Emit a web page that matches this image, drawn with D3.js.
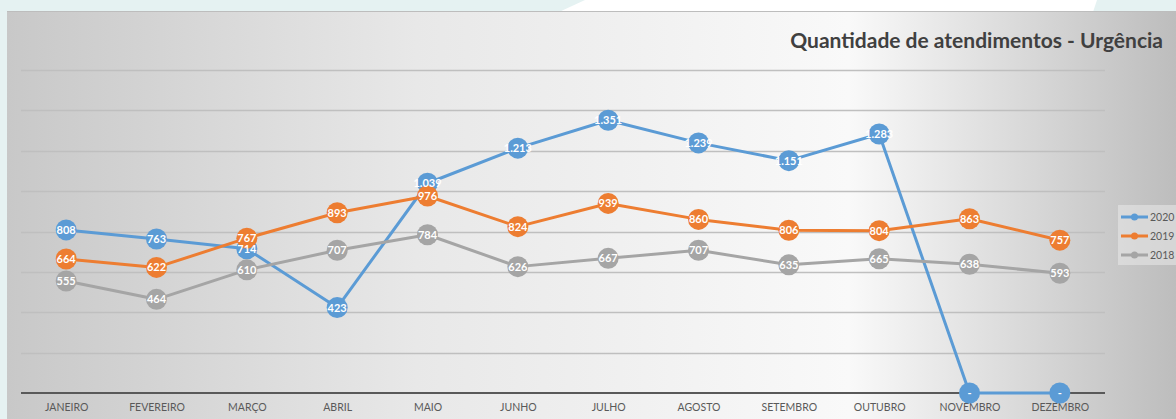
<!DOCTYPE html>
<html>
<head>
<meta charset="utf-8">
<script src="https://cdn.jsdelivr.net/npm/d3@7"></script>
<style>
  html, body { margin: 0; padding: 0; background: #e6f2f2; }
  svg { display: block; }
</style>
</head>
<body>
<svg id="chart" width="1176" height="419"></svg>
<script>
// chart data
var months = ["JANEIRO", "FEVEREIRO", "MARÇO", "ABRIL", "MAIO", "JUNHO", "JULHO", "AGOSTO", "SETEMBRO", "OUTUBRO", "NOVEMBRO", "DEZEMBRO"];
var years = ["2020", "2019", "2018"];
var v2020 = [808, 763, 714, 423, 1039, 1213, 1351, 1239, 1151, 1283, 0, 0];
var v2019 = [664, 622, 767, 893, 976, 824, 939, 860, 806, 804, 863, 757];
var v2018 = [555, 464, 610, 707, 784, 626, 667, 707, 635, 665, 638, 593];
var yTicks = [0, 200, 400, 600, 800, 1000, 1200, 1400, 1600];
var colors = ["#5b9bd5", "#ed7d31", "#a5a5a5"];

var series = [
  { name: years[0], values: v2020, color: colors[0] },
  { name: years[1], values: v2019, color: colors[1] },
  { name: years[2], values: v2018, color: colors[2] }
];

var W = 1176, H = 419;
var font = "Lato, 'Open Sans', sans-serif";
var svg = d3.select("#chart");
var defs = svg.append("defs");

// slide background bits (cyan with a white band on top)
svg.append("rect").attr("x", 0).attr("y", 0).attr("width", W).attr("height", 12).attr("fill", "#e5f2f2");
svg.append("path").attr("d", "M585,0 L1097,0 L1093,12 L559,12 Z").attr("fill", "#ffffff");

// chart panel gradient
var panelGrad = defs.append("linearGradient").attr("id", "panel").attr("x1", 0).attr("x2", 1).attr("y1", 0).attr("y2", 0);
panelGrad.append("stop").attr("offset", "0%").attr("stop-color", "#c8c8c8");
panelGrad.append("stop").attr("offset", "35%").attr("stop-color", "#e8e8e8");
panelGrad.append("stop").attr("offset", "72%").attr("stop-color", "#f9f9f9");
panelGrad.append("stop").attr("offset", "100%").attr("stop-color", "#bdbdbd");
svg.append("rect").attr("x", 7).attr("y", 11).attr("width", W - 7).attr("height", H - 11).attr("fill", "url(#panel)");
svg.append("line").attr("x1", 7).attr("x2", W).attr("y1", 11.5).attr("y2", 11.5).attr("stroke", "#bdbdbd").attr("stroke-width", 1);

var x = d3.scalePoint().domain(months).range([21, 1105]).padding(0.5);
var y = d3.scaleLinear().domain([0, 1600]).range([393, 70]);

// gridlines
svg.append("g").selectAll("line").data(yTicks.filter(function(d){ return d > 0; })).enter().append("line")
  .attr("x1", 21).attr("x2", 1105)
  .attr("y1", function(d){ return Math.round(y(d)) + 0.5; })
  .attr("y2", function(d){ return Math.round(y(d)) + 0.5; })
  .attr("stroke", "#bfbfbf").attr("stroke-width", 1.5);

// x axis
var xAxis = svg.append("g").attr("transform", "translate(0," + y(0) + ")")
  .call(d3.axisBottom(x).tickSize(0).tickPadding(11));
xAxis.select(".domain").attr("d", "M21,0H1105").attr("stroke", "#595959").attr("stroke-width", 2);
xAxis.selectAll("text")
  .attr("fill", "#595959")
  .style("font-family", font)
  .style("font-size", "10.5px");

// lines + markers (2020 first, later series drawn on top, like Excel)
var line = d3.line()
  .x(function(d, i){ return x(months[i]); })
  .y(function(d){ return y(d); });

series.forEach(function(s) {
  var g = svg.append("g");
  g.append("path").datum(s.values)
    .attr("d", line)
    .attr("fill", "none")
    .attr("stroke", s.color)
    .attr("stroke-width", 3)
    .attr("stroke-linejoin", "round");
  g.selectAll("circle").data(s.values).enter().append("circle")
    .attr("cx", function(d, i){ return x(months[i]); })
    .attr("cy", function(d){ return y(d); })
    .attr("r", 10.5)
    .attr("fill", s.color);
});

// data labels on top of everything
series.forEach(function(s) {
  svg.append("g").selectAll("text").data(s.values).enter().append("text")
    .attr("x", function(d, i){ return x(months[i]); })
    .attr("y", function(d){ return y(d); })
    .attr("dy", "0.36em")
    .attr("text-anchor", "middle")
    .attr("fill", "#ffffff")
    .style("font-family", font)
    .style("font-size", "11px")
    .style("font-weight", "bold")
    .text(function(d){ return d === 0 ? "-" : d3.format(",")(d).replace(",", "."); });
});

// title
svg.append("text")
  .attr("x", 1163).attr("y", 48)
  .attr("text-anchor", "end")
  .attr("fill", "#404040")
  .style("font-family", font)
  .style("font-size", "21px")
  .style("font-weight", "bold")
  .text("Quantidade de atendimentos - Urgência");

// legend
var lg = svg.append("g");
lg.append("rect").attr("x", 1118).attr("y", 205).attr("width", 58).attr("height", 60).attr("fill", "#e6e6e6").attr("opacity", 0.6);
series.forEach(function(s, i) {
  var ly = 217 + i * 19;
  lg.append("line").attr("x1", 1121).attr("x2", 1148).attr("y1", ly).attr("y2", ly)
    .attr("stroke", s.color).attr("stroke-width", 3);
  lg.append("circle").attr("cx", 1134.5).attr("cy", ly).attr("r", 3.5).attr("fill", s.color);
  lg.append("text").attr("x", 1150).attr("y", ly).attr("dy", "0.35em")
    .attr("fill", "#595959")
    .style("font-family", font)
    .style("font-size", "10.5px")
    .text(s.name);
});
</script>
</body>
</html>
